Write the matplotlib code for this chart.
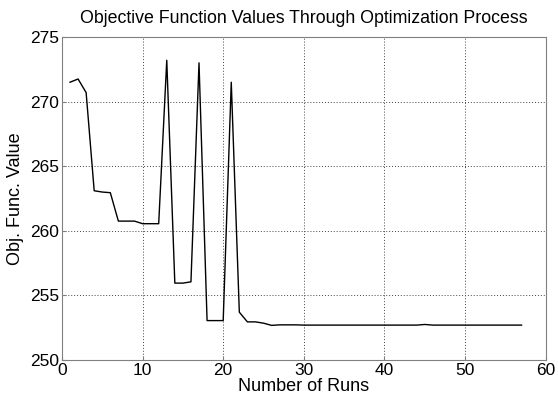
import matplotlib
matplotlib.use("Agg")
import matplotlib.pyplot as plt

# --- Datos ---
runs = list(range(1, 58))
obj_vals = [271.5, 271.75, 270.7, 263.1, 263.0, 262.95, 260.75, 260.75, 260.75, 260.55,
            260.55, 260.55, 273.2, 255.95, 255.95, 256.05, 273.0, 253.05, 253.05, 253.05,
            271.5, 253.7, 252.95, 252.95, 252.85, 252.68, 252.72, 252.72, 252.72, 252.7]
obj_vals += [252.7] * 14 + [252.75] + [252.7] * 12

x_ticks = [0, 10, 20, 30, 40, 50, 60]
y_ticks = [250, 255, 260, 265, 270, 275]

plt.rcParams['font.family'] = ['Liberation Sans', 'DejaVu Sans']

fig = plt.figure(figsize=(5.58, 3.98), dpi=100)
ax = fig.add_axes([0.111, 0.0955, 0.867, 0.8115])

ax.plot(runs, obj_vals, color='black', linewidth=1.0)
ax.set_xlim(0, 60)
ax.set_ylim(250, 275)
ax.set_xticks(x_ticks)
ax.set_yticks(y_ticks)
ax.grid(True, linestyle=(0, (1, 2)), color='#444444', linewidth=0.7)
ax.tick_params(direction='in', labelsize=12.5, length=3, pad=2, color='#808080')
for s in ax.spines.values():
    s.set_color('#808080')

ax.set_xlabel("Number of Runs", fontsize=13, labelpad=0)
ax.set_ylabel("Obj. Func. Value", fontsize=13, labelpad=4)
ax.set_title("Objective Function Values Through Optimization Process", fontsize=12.8, pad=10)

fig.savefig("out.png", dpi=100)
